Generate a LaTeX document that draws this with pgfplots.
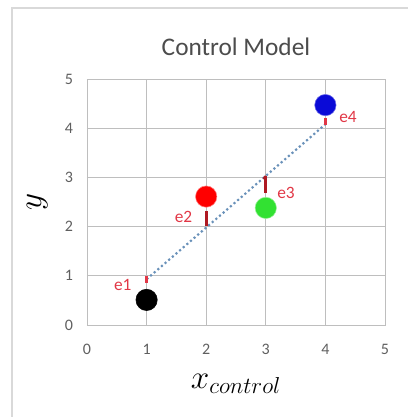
\documentclass[border=0pt]{standalone}
\usepackage{pgfplots}
\pgfplotsset{compat=1.18}
\usepackage{fontspec}
\setmainfont{Carlito}
\definecolor{gridc}{RGB}{190,190,190}
\definecolor{tickc}{RGB}{95,95,95}
\definecolor{linec}{RGB}{105,145,185}
\definecolor{ecol}{RGB}{225,55,70}
\definecolor{edark}{RGB}{175,25,35}
\definecolor{ptgreen}{RGB}{50,225,50}
\definecolor{ptblue}{RGB}{10,10,215}
\begin{document}
\begin{tikzpicture}
\path[use as bounding box] (-65.25pt,-69pt) rectangle (240pt,243.75pt);
\draw[gray!30, line width=0.8pt] (-56.25pt,-80pt) rectangle (250pt,237.75pt);
\begin{axis}[
  at={(0pt,0pt)}, anchor=south west,
  scale only axis, width=223.5pt, height=184.5pt,
  xmin=0, xmax=5, ymin=0, ymax=5,
  xtick={0,1,2,3,4,5}, ytick={0,1,2,3,4,5},
  grid=major,
  major grid style={gridc, line width=0.7pt},
  axis line style={gridc, line width=0.7pt},
  major tick length=0pt,
  tick label style={font=\fontsize{12}{14}\selectfont, text=tickc},
  /pgf/number format/assume math mode=true,
  xticklabel style={yshift=-11pt},
  yticklabel style={xshift=-7pt},
  clip=false,
  title={\fontsize{19}{22}\selectfont\color{tickc!80!black}Control Model},
  title style={yshift=8pt},
  xlabel={\fontsize{27}{30}\selectfont $x_{control}$},
  xlabel style={yshift=-8pt},
  ylabel={\fontsize{27}{30}\selectfont $y$},
  ylabel style={yshift=6pt},
]
% regression line
\addplot[linec, line width=1.6pt, dotted] coordinates {(1,0.93) (4,4.08)};
% residual marks
\addplot[ecol, line width=2.4pt] coordinates {(1,0.86) (1,1.0)};
\addplot[edark, line width=2.4pt] coordinates {(2,2.02) (2,2.32)};
\addplot[edark, line width=2.4pt] coordinates {(3,2.68) (3,3.02)};
\addplot[edark, line width=1.6pt] coordinates {(2.96,2.97) (3.0,3.03)};
\addplot[ecol, line width=2.4pt] coordinates {(4,4.07) (4,4.2)};
% points
\addplot[only marks, mark=*, mark size=8pt, black] coordinates {(1,0.51)};
\addplot[only marks, mark=*, mark size=8pt, red, mark options={draw=red!50}] coordinates {(2,2.61)};
\addplot[only marks, mark=*, mark size=8pt, ptgreen, mark options={draw=ptgreen!50}] coordinates {(3,2.38)};
\addplot[only marks, mark=*, mark size=8pt, ptblue, mark options={draw=ptblue!60}] coordinates {(4,4.47)};
% labels
\node[text=ecol, font=\fontsize{13}{15}\selectfont] at (axis cs:0.6,0.81) {e1};
\node[text=ecol, font=\fontsize{13}{15}\selectfont] at (axis cs:1.62,2.2) {e2};
\node[text=ecol, font=\fontsize{13}{15}\selectfont] at (axis cs:3.34,2.68) {e3};
\node[text=ecol, font=\fontsize{13}{15}\selectfont] at (axis cs:4.38,4.23) {e4};
\end{axis}
\end{tikzpicture}
\end{document}
